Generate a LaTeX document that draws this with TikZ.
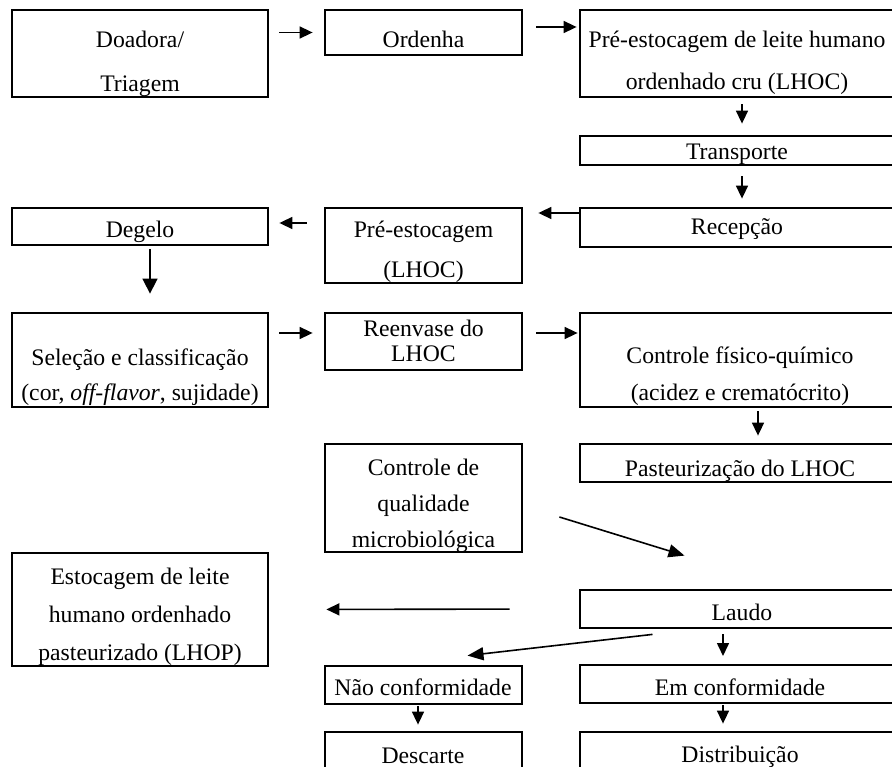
\documentclass[tikz,border=0pt]{standalone}
\usepackage{fontspec}
\setmainfont{Liberation Serif}
\usetikzlibrary{arrows.meta}

\tikzset{
  box/.style={rectangle, draw, line width=2.8pt, inner sep=0pt},
  txt/.style={font=\fontsize{23.7}{36}\selectfont, align=center, anchor=base, inner sep=0pt},
  flow/.style={-{Triangle[length=13pt,width=12pt]}, line width=1.6pt}
}

\begin{document}
\begin{tikzpicture}[x=1pt, y=-1pt]
	\clip (0,0) rectangle (892,767);

	% caixas
	\node[box, minimum width=256, minimum height=87] (doadora) at (140,53.5) {};
	\node[box, minimum width=197, minimum height=45] (ordenha) at (423.5,32.5) {};
	\node[box, minimum width=315, minimum height=87] (preLHOC) at (737.5,53.5) {};
	\node[box, minimum width=315, minimum height=29] (transporte) at (737.5,150.5) {};
	\node[box, minimum width=315, minimum height=39] (recepcao) at (737.5,227.5) {};
	\node[box, minimum width=197, minimum height=75] (preLHOC2) at (423.5,245.5) {};
	\node[box, minimum width=256, minimum height=37] (degelo) at (140,226.5) {};
	\node[box, minimum width=256, minimum height=94] (selecao) at (140,360) {};
	\node[box, minimum width=197, minimum height=57] (reenvase) at (423.5,341.5) {};
	\node[box, minimum width=315, minimum height=94] (fisico) at (737.5,360) {};
	\node[box, minimum width=315, minimum height=38] (pasteur) at (737.5,463) {};
	\node[box, minimum width=197, minimum height=108] (microQual) at (423.5,498) {};
	\node[box, minimum width=256, minimum height=113] (lhop) at (140,609.5) {};
	\node[box, minimum width=315, minimum height=38] (laudo) at (737.5,609) {};
	\node[box, minimum width=197, minimum height=38] (naoConf) at (423.5,685) {};
	\node[box, minimum width=315, minimum height=38, line width=2pt] (emConf) at (737.5,684) {};
	\node[box, minimum width=197, minimum height=68] (descarte) at (423.5,766) {};
	\node[box, minimum width=315, minimum height=68] (distrib) at (737.5,766) {};

	% textos (base = linha de baixo)
	\node[txt] (doadoraTxt) at (140,92) {Doadora/\\[8pt]Triagem};
	\node[txt] (ordenhaTxt) at (423.5,48) {Ordenha};
	\node[txt] (preLHOCTxt) at (737,90) {Pré-estocagem de leite humano\\[6pt]ordenhado cru (LHOC)};
	\node[txt] (transporteTxt) at (737,160) {Transporte};
	\node[txt] (recepcaoTxt) at (737,235) {Recepção};
	\node[txt] (preLHOC2Txt) at (423.5,278) {Pré-estocagem\\[4pt](LHOC)};
	\node[txt] (degeloTxt) at (140,238) {Degelo};
	\node[txt] (selecaoTxt) at (140,400) {Seleção e classificação\\[-1pt](cor, \textit{off-flavor}, sujidade)};
	\node[txt] (reenvaseTxt) at (423.5,362) {Reenvase do\\[-11pt]LHOC};
	\node[txt] (fisicoTxt) at (740,400) {Controle físico-químico\\[1pt](acidez e crematócrito)};
	\node[txt] (pasteurTxt) at (740,476) {Pasteurização do LHOC};
	\node[txt] (microQualTxt) at (423.5,547) {Controle de\\qualidade\\microbiológica};
	\node[txt] (lhopTxt) at (140,660) {Estocagem de leite\\[2pt]humano ordenhado\\[2pt]pasteurizado (LHOP)};
	\node[txt] (laudoTxt) at (742,620) {Laudo};
	\node[txt] (naoConfTxt) at (423,695) {Não conformidade};
	\node[txt] (emConfTxt) at (740,695) {Em conformidade};
	\node[txt] (descarteTxt) at (423,763) {Descarte};
	\node[txt] (distribTxt) at (740,762) {Distribuição};

	% setas
	\draw[flow, shorten <=10pt, shorten >=11pt] (doadora.east |- ordenha.west) -- (ordenha.west);
	\draw[flow, shorten <=13pt, shorten >=2pt] ([yshift=5.5pt]ordenha.east) -- ([yshift=5.5pt]ordenha.east -| preLHOC.west);
	\draw[flow, shorten <=6pt, shorten >=11pt] ([xshift=4.5pt]preLHOC.south) -- ([xshift=4.5pt]transporte.north);
	\draw[flow, shorten <=10pt, shorten >=8pt] ([xshift=4.5pt]transporte.south) -- ([xshift=4.5pt]recepcao.north);
	\draw[flow, shorten >=15pt] ([yshift=14.5pt]recepcao.west) -- ([yshift=14.5pt]recepcao.west -| preLHOC2.east);
	\draw[flow, shorten <=17pt, shorten >=10pt] ([yshift=3.5pt]preLHOC2.west |- degelo.east) -- ([yshift=3.5pt]degelo.east);
	\draw[flow, -{Triangle[length=15pt,width=15pt]}, shorten <=3pt, shorten >=18pt] ([xshift=10pt]degelo.south) -- ([xshift=10pt]selecao.north);
	\draw[flow, shorten <=10pt, shorten >=11pt] ([yshift=8.5pt]selecao.east |- reenvase.west) -- ([yshift=8.5pt]reenvase.west);
	\draw[flow, shorten <=13pt, shorten >=1pt] ([yshift=8.5pt]reenvase.east) -- ([yshift=8.5pt]reenvase.east -| fisico.west);
	\draw[flow, shorten <=3pt, shorten >=7pt] ([xshift=20.5pt]fisico.south) -- ([xshift=20.5pt]pasteur.north);
	\draw[flow, -{Triangle[length=16pt,width=13pt]}] ([xshift=36pt,yshift=-19pt]microQual.east) -- ([xshift=-53pt,yshift=33pt]laudo.north);
	\draw[flow, shorten <=69pt, shorten >=57pt] (laudo.west) -- (lhop.east);
	\draw[flow, -{Triangle[length=16pt,width=13pt]}] ([xshift=-85pt,yshift=-5pt]laudo.south) -- ([xshift=44pt,yshift=9pt]naoConf.north);
	\draw[flow, shorten <=5pt, shorten >=8pt] ([xshift=-14.5pt]laudo.south) -- ([xshift=-14.5pt]emConf.north);
	\draw[flow, shorten <=1pt, shorten >=7pt] ([xshift=-14.5pt]emConf.south) -- ([xshift=-14.5pt]distrib.north);
	\draw[flow, shorten <=1pt, shorten >=6pt] ([xshift=-5.5pt]naoConf.south) -- ([xshift=-5.5pt]descarte.north);
\end{tikzpicture}
\end{document}
